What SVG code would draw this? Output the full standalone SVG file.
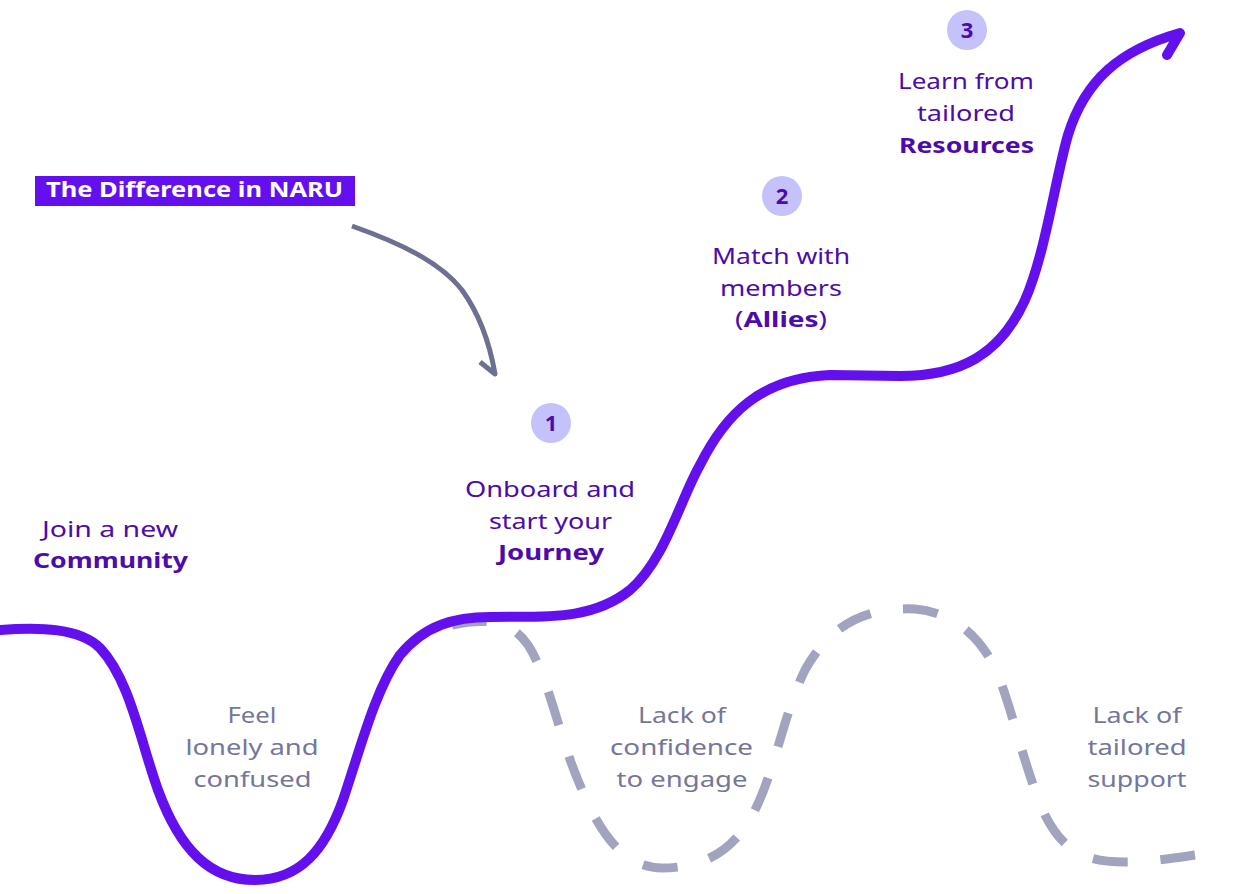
<svg xmlns="http://www.w3.org/2000/svg" width="1257" height="894" viewBox="0 0 1257 894">
<style>
text{font-family:"Noto Sans","Liberation Sans",sans-serif;font-size:22px;text-anchor:middle}
.p{fill:#4c0bab}
.g{fill:#75769a}
.b{font-weight:700}
.num{font-weight:700;font-size:22px;fill:#4c0bab}
.badge{fill:#c5c2fb}
.main{fill:none;stroke:#6410ee;stroke-width:10;stroke-linecap:round;stroke-linejoin:round}
.dash{fill:none;stroke:#a2a3bf;stroke-width:9;stroke-dasharray:32 30}
.ptr{fill:none;stroke:#6e7091;stroke-width:5;stroke-linejoin:round}
</style>
<rect width="1257" height="894" fill="#ffffff"/>
<g id="connectors">
  <path class="dash" pathLength="1086" d="M 452,625 C 490,617 512,622 528,645 C 548,675 560,740 580,785 C 600,835 625,868 662,868 C 705,868 735,850 755,810 C 775,770 785,710 805,670 C 830,625 865,607 915,609 C 955,612 985,640 1000,680 C 1015,720 1025,770 1045,815 C 1065,855 1090,862 1125,862 C 1150,862 1175,858 1195,855"/>
  <path class="main" d="M 0,630 C 40,627 80,628 100,648 C 130,680 140,740 158,790 C 180,850 210,880 255,880 C 300,880 325,850 343,800 C 360,750 375,690 400,655 C 425,625 455,617 490,617 C 540,616 590,622 630,590 C 665,560 680,500 700,465 C 725,415 760,378 830,375 L 900,376 C 960,376 1000,355 1025,300 C 1045,255 1055,180 1068,135 C 1085,80 1120,50 1180,33 L 1167,55"/>
  <path class="ptr" d="M 352,226 C 400,243 440,262 462,290 C 480,315 490,345 495,374 L 480,362"/>
</g>
<g id="title">
  <rect x="35" y="176" width="320" height="30" fill="#6410ee"/>
  <text x="194.5" y="197" class="b" fill="#ffffff" textLength="297" lengthAdjust="spacingAndGlyphs">The Difference in NARU</text>
</g>
<g id="join">
  <text x="110" y="537" class="p" textLength="136" lengthAdjust="spacingAndGlyphs">Join a new</text>
  <text x="110.5" y="568" class="p b" textLength="155" lengthAdjust="spacingAndGlyphs">Community</text>
</g>
<g id="lonely">
  <text x="252" y="723" class="g" textLength="49" lengthAdjust="spacingAndGlyphs">Feel</text>
  <text x="252" y="755" class="g" textLength="133" lengthAdjust="spacingAndGlyphs">lonely and</text>
  <text x="252.5" y="787" class="g" textLength="118" lengthAdjust="spacingAndGlyphs">confused</text>
</g>
<g id="step1">
  <circle cx="551" cy="423" r="20" class="badge"/>
  <text x="551" y="431" class="num">1</text>
  <text x="550" y="497" class="p" textLength="170" lengthAdjust="spacingAndGlyphs">Onboard and</text>
  <text x="550.5" y="529" class="p" textLength="123" lengthAdjust="spacingAndGlyphs">start your</text>
  <text x="551" y="560" class="p b" textLength="106" lengthAdjust="spacingAndGlyphs">Journey</text>
</g>
<g id="step2">
  <circle cx="782" cy="196" r="20" class="badge"/>
  <text x="782" y="204" class="num">2</text>
  <text x="781" y="264" class="p" textLength="138" lengthAdjust="spacingAndGlyphs">Match with</text>
  <text x="781" y="296" class="p" textLength="122" lengthAdjust="spacingAndGlyphs">members</text>
  <text x="781" y="327" class="p" textLength="92" lengthAdjust="spacingAndGlyphs">(<tspan class="b">Allies</tspan>)</text>
</g>
<g id="step3">
  <circle cx="967" cy="30" r="20" class="badge"/>
  <text x="967" y="38" class="num">3</text>
  <text x="966" y="89" class="p" textLength="136" lengthAdjust="spacingAndGlyphs">Learn from</text>
  <text x="966" y="121" class="p" textLength="98" lengthAdjust="spacingAndGlyphs">tailored</text>
  <text x="966.5" y="153" class="p b" textLength="135" lengthAdjust="spacingAndGlyphs">Resources</text>
</g>
<g id="confidence">
  <text x="682" y="723" class="g" textLength="88" lengthAdjust="spacingAndGlyphs">Lack of</text>
  <text x="681.5" y="755" class="g" textLength="143" lengthAdjust="spacingAndGlyphs">confidence</text>
  <text x="682" y="787" class="g" textLength="131" lengthAdjust="spacingAndGlyphs">to engage</text>
</g>
<g id="support">
  <text x="1137" y="723" class="g" textLength="89" lengthAdjust="spacingAndGlyphs">Lack of</text>
  <text x="1137" y="755" class="g" textLength="99" lengthAdjust="spacingAndGlyphs">tailored</text>
  <text x="1137" y="787" class="g" textLength="99" lengthAdjust="spacingAndGlyphs">support</text>
</g>
</svg>
